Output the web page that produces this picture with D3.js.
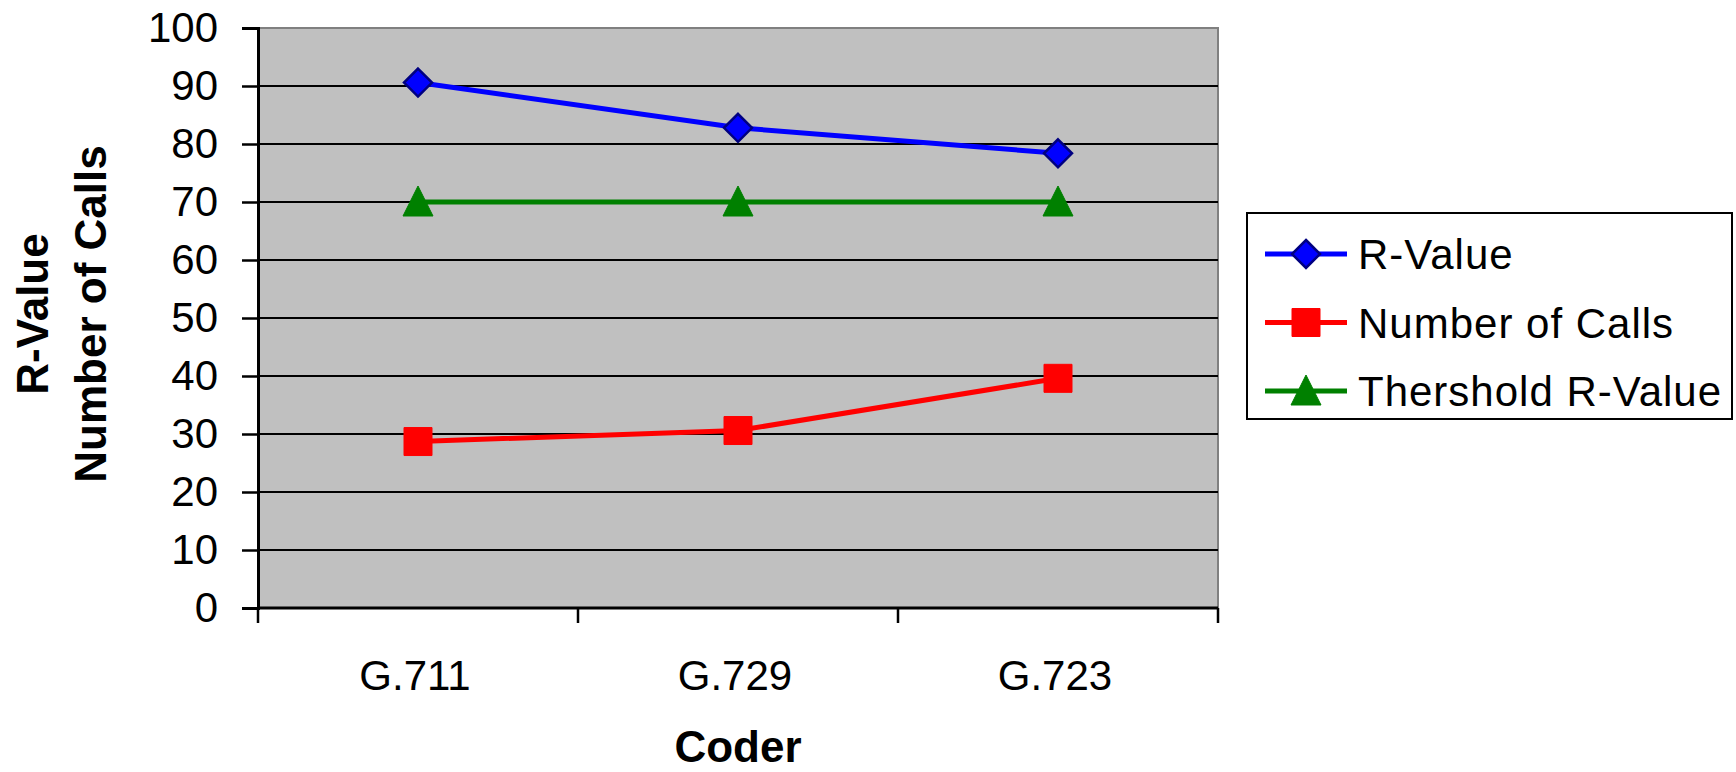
<!DOCTYPE html>
<html>
<head>
<meta charset="utf-8">
<script src="https://cdn.jsdelivr.net/npm/d3@7"></script>
<style>
  body { margin: 0; background: #fff; }
  text { font-family: Arial, "Liberation Sans", sans-serif; }
</style>
</head>
<body>
<script>
const width = 1736;
const height = 772;

const margin = { left: 258, right: 518, top: 28, bottom: 164 };

const coders = ["G.711", "G.729", "G.723"];
const rValue = [90.6, 82.8, 78.4];
const numberOfCalls = [28.7, 30.6, 39.6];
const thresholdRValue = [70, 70, 70];
const yTicks = [0, 10, 20, 30, 40, 50, 60, 70, 80, 90, 100];

const series = [
    { name: "R-Value", values: rValue, color: "#0000ff", marker: "diamond" },
    { name: "Number of Calls", values: numberOfCalls, color: "#ff0000", marker: "square" },
    { name: "Thershold R-Value", values: thresholdRValue, color: "#008000", marker: "triangle" }
];

let svg = d3.select("body").append("svg")
    .attr("width", width)
    .attr("height", height);

let xScale = d3.scaleBand()
    .domain(coders)
    .range([margin.left, width - margin.right]);

let yScale = d3.scaleLinear()
    .domain([0, 100])
    .range([height - margin.bottom, margin.top]);

const x0 = margin.left, x1 = width - margin.right;
const y0 = height - margin.bottom, y1 = margin.top;

// plot area
svg.append("rect")
    .attr("x", x0).attr("y", y1)
    .attr("width", x1 - x0).attr("height", y0 - y1)
    .attr("fill", "#c0c0c0")
    .attr("stroke", "#808080")
    .attr("stroke-width", 2);

// gridlines
svg.append("g")
    .selectAll("line")
    .data(yTicks.filter(d => d > 0 && d < 100))
    .enter().append("line")
    .attr("x1", x0).attr("x2", x1)
    .attr("y1", d => yScale(d)).attr("y2", d => yScale(d))
    .attr("stroke", "#000")
    .attr("stroke-width", 2);

// y axis
let yAxis = svg.append("g")
    .attr("transform", `translate(${x0},0)`)
    .call(d3.axisLeft(yScale).tickValues(yTicks).tickSize(16).tickPadding(24));
yAxis.select(".domain").attr("stroke-width", 3);
yAxis.selectAll(".tick line").attr("stroke-width", 2.5);
yAxis.selectAll("text")
    .style("font-size", "42px")
    .attr("fill", "#000");

// x axis (ticks at band edges)
let xAxis = svg.append("g")
    .attr("transform", `translate(0,${y0})`);
xAxis.append("line")
    .attr("x1", x0).attr("x2", x1)
    .attr("stroke", "#000").attr("stroke-width", 3);
let edges = coders.map(c => xScale(c)).concat([x1]);
xAxis.selectAll(".edge")
    .data(edges)
    .enter().append("line")
    .attr("class", "edge")
    .attr("x1", d => d).attr("x2", d => d)
    .attr("y1", 0).attr("y2", 15)
    .attr("stroke", "#000").attr("stroke-width", 2.5);
xAxis.selectAll(".lbl")
    .data(coders)
    .enter().append("text")
    .attr("class", "lbl")
    .attr("x", d => xScale(d) + xScale.bandwidth() / 2 - 3)
    .attr("y", 82)
    .attr("text-anchor", "middle")
    .style("font-size", "42px")
    .text(d => d);

// axis titles
svg.append("text")
    .attr("x", 738).attr("y", 762)
    .attr("text-anchor", "middle")
    .style("font-size", "44px")
    .style("font-weight", "bold")
    .text("Coder");

let yTitle = svg.append("text")
    .attr("transform", `translate(0,${(y0 + y1) / 2 - 4}) rotate(-90)`)
    .attr("text-anchor", "middle")
    .style("font-size", "44px")
    .style("font-weight", "bold");
yTitle.append("tspan").attr("x", 0).attr("y", 48).text("R-Value");
yTitle.append("tspan").attr("x", 0).attr("y", 106).text("Number of Calls");

function markerPath(type) {
    if (type === "diamond") return "M0,-14L14,0L0,14L-14,0Z";
    if (type === "square") return "M-14,-14H14V14H-14Z";
    return "M0,-16L15,14H-15Z";
}

const line = d3.line()
    .x((d, i) => xScale(coders[i]) + xScale.bandwidth() / 2)
    .y(d => yScale(d));

series.forEach(s => {
    svg.append("path")
        .datum(s.values)
        .attr("d", line)
        .attr("fill", "none")
        .attr("stroke", s.color)
        .attr("stroke-width", 5);

    svg.append("g")
        .selectAll("path")
        .data(s.values)
        .enter().append("path")
        .attr("transform", (d, i) => `translate(${xScale(coders[i]) + xScale.bandwidth() / 2},${yScale(d)})`)
        .attr("d", markerPath(s.marker))
        .attr("fill", s.color)
        .attr("stroke", s.marker === "diamond" ? "#000080" : s.color)
        .attr("stroke-width", s.marker === "diamond" ? 2.5 : 1);
});

// legend
let legend = svg.append("g");
legend.append("rect")
    .attr("x", 1247).attr("y", 213)
    .attr("width", 485).attr("height", 206)
    .attr("fill", "#fff")
    .attr("stroke", "#000")
    .attr("stroke-width", 2);

let items = legend.selectAll(".item")
    .data(series)
    .enter().append("g")
    .attr("class", "item")
    .attr("transform", (d, i) => `translate(1265,${254 + i * 68.5})`);
items.append("line")
    .attr("x1", 0).attr("x2", 82)
    .attr("stroke", d => d.color)
    .attr("stroke-width", 5);
items.append("path")
    .attr("transform", "translate(41,0)")
    .attr("d", d => markerPath(d.marker))
    .attr("fill", d => d.color)
    .attr("stroke", d => d.marker === "diamond" ? "#000080" : d.color)
    .attr("stroke-width", d => d.marker === "diamond" ? 2.5 : 1);
items.append("text")
    .attr("x", 93)
    .attr("dy", "0.36em")
    .style("font-size", "42px")
    .style("letter-spacing", "1px")
    .text(d => d.name);
</script>
</body>
</html>
